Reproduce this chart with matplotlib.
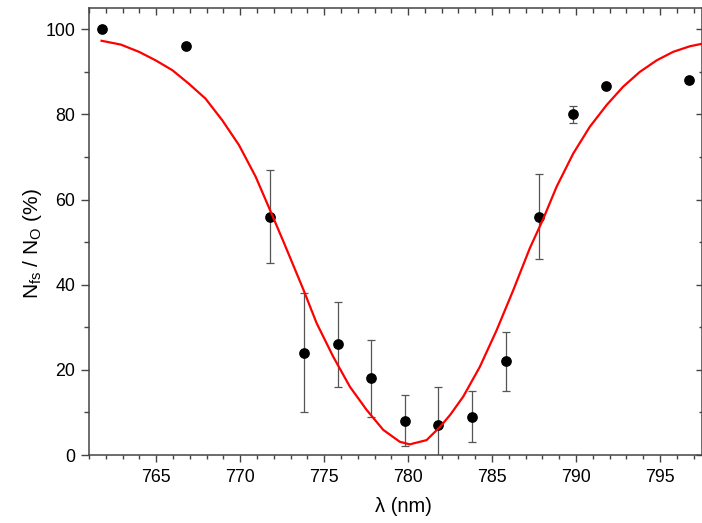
import matplotlib
matplotlib.use('Agg')
import matplotlib.pyplot as plt
from matplotlib.ticker import MultipleLocator

plt.rcParams['font.family'] = ['Liberation Sans', 'DejaVu Sans']
plt.rcParams['mathtext.fontset'] = 'custom'
plt.rcParams['mathtext.rm'] = 'Liberation Sans'
plt.rcParams['mathtext.it'] = 'Liberation Sans'

# measured points
wl = [761.8, 766.8, 771.8, 773.8, 775.8, 777.8, 779.8, 781.8, 783.8, 785.8, 787.8, 789.8, 791.8, 796.7]
frac = [100, 96, 56, 24, 26, 18, 8, 7, 9, 22, 56, 80, 86.7, 88]
err = [0, 0, 11, 14, 10, 9, 6, 9, 6, 7, 10, 2, 0, 0.6]

# fit curve
fit_wl = [761.75, 762.9, 763.98, 764.97, 765.96, 766.95, 767.94, 768.94, 769.93, 770.92,
          771.75, 772.57, 773.76, 774.55, 775.54, 776.54, 777.53, 778.52, 779.51, 780.1,
          781.1, 781.9, 782.5, 783.28, 784.27, 785.27, 786.26, 787.25, 788.04, 788.84,
          789.83, 790.82, 791.82, 792.8, 793.8, 794.8, 795.78, 796.77, 797.5]
fit_frac = [97.3, 96.4, 94.7, 92.7, 90.4, 87.2, 83.7, 78.6, 72.8, 65.4,
            57.8, 50.2, 38.9, 31.0, 23.1, 16.0, 10.6, 5.9, 3.1, 2.5,
            3.5, 6.6, 9.4, 13.7, 20.7, 29.3, 38.7, 48.6, 55.4, 63.0,
            70.8, 77.1, 82.2, 86.5, 90.0, 92.7, 94.7, 96.0, 96.6]

fig = plt.figure(figsize=(7.02, 5.23), dpi=100)
ax = fig.add_axes([89/702, 68/523, 613/702, 447/523])

ax.errorbar(wl, frac, yerr=err, fmt='o', color='black', markersize=6.7,
            ecolor='#555555', elinewidth=0.9, capsize=2.9, capthick=0.9, zorder=2)
ax.plot(fit_wl, fit_frac, color='red', lw=1.6, zorder=3, solid_joinstyle='round')

ax.set_xlim(761, 797.5)
ax.set_ylim(0, 105)
ax.xaxis.set_major_locator(MultipleLocator(5))
ax.xaxis.set_minor_locator(MultipleLocator(1))
ax.yaxis.set_major_locator(MultipleLocator(20))
ax.yaxis.set_minor_locator(MultipleLocator(10))

for s in ax.spines.values():
    s.set_color('#444444')
    s.set_linewidth(1.1)

ax.tick_params(which='both', direction='out', colors='#444444', labelcolor='black',
               labelsize=12.8, width=1.0)
ax.tick_params(axis='y', which='major', length=6, pad=4)
ax.tick_params(axis='y', which='minor', length=3.8)
ax.tick_params(axis='x', which='major', length=5, pad=5)
ax.tick_params(axis='x', which='minor', length=3)

# inward ticks on top and right
tx = ax.twiny()
tx.set_xlim(ax.get_xlim())
tx.xaxis.set_major_locator(MultipleLocator(5))
tx.xaxis.set_minor_locator(MultipleLocator(1))
tx.tick_params(which='both', direction='in', colors='#444444', labeltop=False, width=1.0)
tx.tick_params(which='major', length=5)
tx.tick_params(which='minor', length=3.3)
ty = ax.twinx()
ty.set_ylim(ax.get_ylim())
ty.yaxis.set_major_locator(MultipleLocator(20))
ty.yaxis.set_minor_locator(MultipleLocator(10))
ty.tick_params(which='both', direction='in', colors='#444444', labelright=False, width=1.0)
ty.tick_params(which='major', length=4)
ty.tick_params(which='minor', length=2.5)
for a in (tx, ty):
    for s in a.spines.values():
        s.set_visible(False)

fig.text(403/702, 1 - 507/523, 'λ (nm)', fontsize=14.5, ha='center', va='center')
fig.text(33/702, 1 - 244/523, r'N$_{\mathrm{fs}}$ / N$_{\mathrm{O}}$ (%)', fontsize=15,
         ha='center', va='center', rotation=90)

fig.savefig('out.png', dpi=100)
